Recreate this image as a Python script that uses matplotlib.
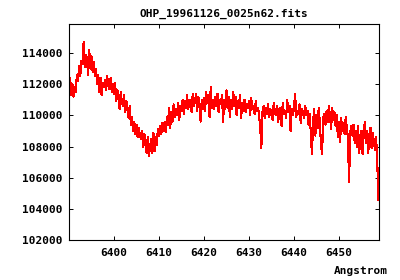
import numpy as np
import matplotlib
matplotlib.use("Agg")
import matplotlib.pyplot as plt

# spectrum sampled every 0.25 Angstrom starting at 6390 (flux in thousands)
start_wl = 6390.0
step_wl = 0.25
flux_k = [
    110.9, 112.4, 111.3, 112.0, 111.2, 111.8, 111.5, 112.6,
    112.2, 113.2, 112.5, 113.5, 113.3, 114.7, 113.1, 113.9,
    113.6, 112.6, 114.2, 113.0, 113.8, 112.8, 113.4, 112.5,
    113.0, 112.0, 112.6, 111.5, 112.4, 111.3, 112.1, 111.8,
    112.3, 111.6, 112.5, 111.9, 111.7, 112.4, 111.5, 112.0,
    111.4, 112.1, 110.9, 111.6, 111.2, 110.4, 111.5, 110.8,
    110.6, 111.3, 110.2, 110.9, 110.5, 109.8, 110.6, 109.4,
    109.9, 109.0, 109.6, 108.8, 109.4, 108.6, 109.2, 108.7,
    108.5, 109.0, 108.0, 108.8, 108.1, 107.6, 108.6, 107.4,
    107.9, 108.5, 107.6, 108.9, 107.7, 108.6, 108.1, 109.1,
    108.7, 109.3, 108.8, 109.5, 109.0, 109.6, 108.9, 109.9,
    109.4, 110.5, 109.2, 110.2, 109.6, 110.7, 109.9, 110.4,
    110.0, 110.8, 109.7, 110.6, 110.3, 111.0, 110.1, 110.9,
    110.5, 111.3, 110.4, 110.8, 111.0, 110.2, 111.4, 110.6,
    110.9, 111.4, 110.3, 111.2, 110.6, 109.6, 111.0, 110.4,
    111.1, 110.3, 111.5, 110.8, 111.3, 109.9, 111.8, 110.5,
    111.0, 110.4, 111.2, 110.6, 111.4, 110.2, 111.0, 110.7,
    111.3, 109.6, 111.0, 110.4, 111.6, 110.5, 111.2, 109.9,
    111.0, 110.4, 111.5, 110.6, 111.2, 110.0, 110.9, 110.5,
    111.3, 109.8, 110.8, 110.3, 111.0, 110.2, 110.7, 110.5,
    110.9, 110.0, 111.1, 110.4, 110.6, 110.1, 110.9, 110.3,
    110.5, 110.0, 109.2, 107.9, 110.2, 110.6, 109.8, 110.5,
    110.1, 110.7, 109.9, 110.4, 110.3, 109.7, 110.8, 110.2,
    110.0, 110.6, 109.6, 110.4, 110.5, 109.3, 110.8, 110.1,
    110.3, 109.8, 111.0, 110.2, 110.6, 109.0, 110.4, 110.0,
    110.5, 111.4, 109.9, 110.3, 110.1, 110.7, 109.5, 110.4,
    110.2, 109.8, 110.6, 110.0, 110.3, 109.4, 110.1, 108.8,
    107.5, 109.6, 110.4, 108.7, 110.0, 109.2, 110.5, 109.5,
    108.2, 107.5, 109.8, 110.1, 109.4, 110.3, 109.6, 110.6,
    110.0, 109.1, 110.5, 109.7, 110.2, 109.3, 110.0, 108.6,
    109.6, 108.3, 109.8, 109.0, 109.5, 108.8, 109.9, 109.2,
    108.5, 105.7, 108.9, 109.3, 108.7, 109.4, 108.2, 109.0,
    108.0, 109.3, 107.6, 108.6, 109.0, 107.5, 108.8, 109.6,
    108.2, 109.0, 107.6, 108.7, 109.2, 107.9, 108.9, 108.3,
    107.8, 108.6, 107.2, 104.6,
]
x_ticks = [6400, 6410, 6420, 6430, 6440, 6450]
y_ticks = [102000, 104000, 106000, 108000, 110000, 112000, 114000]

flux = np.array(flux_k) * 1000
wavelength = start_wl + step_wl * np.arange(len(flux))

plt.rcParams['font.family'] = ['DejaVu Sans Mono']
plt.rcParams['font.weight'] = 'bold'
plt.rcParams['font.size'] = 8

fig = plt.figure(figsize=(4, 2.8), dpi=100)
ax = fig.add_axes([0.1725, 0.1429, 0.775, 0.7711])

ax.plot(wavelength, flux, color='red', linewidth=0.8, antialiased=False)

ax.set_xlim(6390, 6458.9)
ax.set_ylim(102000, 115860)
ax.set_xticks(x_ticks)
ax.set_yticks(y_ticks)
ax.tick_params(direction='in', length=3, width=0.7, top=True, right=True,
               labelsize=8)
ax.tick_params(axis='x', pad=6)
ax.tick_params(axis='y', pad=5)
for sp in ax.spines.values():
    sp.set_linewidth(0.8)

fig.text(0.56, 0.95, 'OHP_19961126_0025n62.fits', ha='center', va='center',
         fontsize=8, fontweight='bold')
fig.text(0.97, 0.032, 'Angstrom', ha='right', va='center',
         fontsize=8, fontweight='bold')

fig.savefig('out.png', dpi=100)
